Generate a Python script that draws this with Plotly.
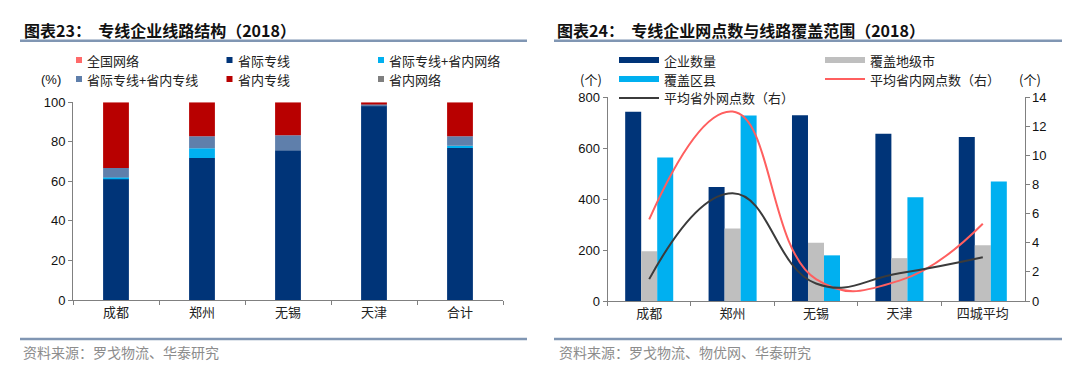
import numpy as np
import plotly.graph_objects as go

# ---------------- Data ----------------
# Left chart: line structure (%), stacked
cities_l = ["成都", "郑州", "无锡", "天津", "合计"]
s_inter_line = [61.3, 71.8, 75.8, 98.4, 76.9]          # 省际专线
s_inter_line_intra_net = [0.7, 4.9, 0.0, 0.0, 1.1]    # 省际专线+省内网络
s_inter_line_intra_line = [4.8, 6.1, 7.5, 0.5, 4.8]   # 省际专线+省内专线
s_intra_line = [33.2, 17.2, 16.7, 1.1, 17.2]          # 省内专线
s_national_net = [0.0, 0.0, 0.0, 0.0, 0.0]            # 全国网络
s_intra_net = [0.0, 0.0, 0.0, 0.0, 0.0]               # 省内网络

# Right chart
cities_r = ["成都", "郑州", "无锡", "天津", "四城平均"]
companies = [742, 447, 728, 656, 643]        # 企业数量
prefectures = [195, 284, 228, 168, 219]      # 覆盖地级市
counties = [563, 727, 179, 407, 469]         # 覆盖区县
avg_intra = [5.6, 13.0, 1.5, 1.4, 5.3]       # 平均省内网点数（右）
avg_inter = [1.5, 7.4, 1.2, 1.9, 3.0]        # 平均省外网点数（右）

# ---------------- Styles ----------------
W, H = 1080, 370
NAVY = "#003478"
LBLUE = "#00b0f0"
STEEL = "#5f7fab"
DRED = "#b80000"
SALMON = "#ff6a6a"
GREY6 = "#7f7f7f"
LGREY = "#bfbfbf"
RED_LINE = "#ff5f5f"
DARK_LINE = "#3b3b3b"
RULE = "#8096b3"
CJK = "Noto Sans CJK SC"
NUM = "Liberation Sans"
AX = "#808080"


def px(x):
    return x / W


def py(y):
    return 1 - y / H


fig = go.Figure()

# ---- Left stacked bars (stacking via cumulative base) ----
left_series = [
    ("省际专线", s_inter_line, NAVY),
    ("省际专线+省内网络", s_inter_line_intra_net, LBLUE),
    ("省际专线+省内专线", s_inter_line_intra_line, STEEL),
    ("省内专线", s_intra_line, DRED),
    ("全国网络", s_national_net, SALMON),
    ("省内网络", s_intra_net, GREY6),
]
base = np.zeros(len(cities_l))
for name, vals, col in left_series:
    v = np.array(vals, dtype=float)
    fig.add_trace(go.Bar(
        x=cities_l, y=v, base=base.copy(), name=name,
        marker=dict(color=col, line=dict(width=0)),
        width=0.30, offset=-0.15, showlegend=False,
        xaxis="x", yaxis="y"))
    base = base + v

# ---- Right grouped bars ----
right_bars = [
    ("企业数量", companies, NAVY, -0.288),
    ("覆盖地级市", prefectures, LGREY, -0.096),
    ("覆盖区县", counties, LBLUE, 0.096),
]
for name, vals, col, off in right_bars:
    fig.add_trace(go.Bar(
        x=cities_r, y=vals, name=name,
        marker=dict(color=col, line=dict(width=0)),
        width=0.192, offset=off, showlegend=False,
        xaxis="x2", yaxis="y2"))

fig.add_trace(go.Scatter(
    x=cities_r, y=avg_intra, name="平均省内网点数（右）", mode="lines",
    line=dict(color=RED_LINE, width=2, shape="spline", smoothing=1.3),
    showlegend=False, xaxis="x2", yaxis="y3"))
fig.add_trace(go.Scatter(
    x=cities_r, y=avg_inter, name="平均省外网点数（右）", mode="lines",
    line=dict(color=DARK_LINE, width=2, shape="spline", smoothing=1.3),
    showlegend=False, xaxis="x2", yaxis="y3"))

axis_common = dict(showline=True, linecolor=AX, linewidth=1, ticks="outside",
                   ticklen=4, tickcolor=AX, showgrid=False, zeroline=False,
                   fixedrange=True, automargin=False)

fig.update_layout(
    width=W, height=H, autosize=False,
    margin=dict(l=0, r=0, t=0, b=0, pad=0),
    paper_bgcolor="white", plot_bgcolor="white",
    barmode="overlay", showlegend=False,
    xaxis=dict(domain=[px(73), px(503)], anchor="y", type="category",
               tickson="boundaries", tickfont=dict(family=CJK, size=13, color="#222"),
               **axis_common),
    yaxis=dict(domain=[py(300), py(102.3)], anchor="x", range=[0, 100], dtick=20,
               tickfont=dict(family=NUM, size=13, color="#111"), **axis_common),
    xaxis2=dict(domain=[px(607.5), px(1024.5)], anchor="y2", type="category",
                tickson="boundaries", tickfont=dict(family=CJK, size=13, color="#222"),
                **axis_common),
    yaxis2=dict(domain=[py(301), py(97)], anchor="x2", range=[0, 800], dtick=200,
                tickfont=dict(family=NUM, size=13, color="#111"), **axis_common),
    yaxis3=dict(overlaying="y2", anchor="x2", side="right", range=[0, 14], dtick=2,
                tickfont=dict(family=NUM, size=13, color="#111"), **axis_common),
)

shapes = []
annotations = []

# Titles and rules
annotations.append(dict(x=px(22), y=py(30), xref="paper", yref="paper",
                        text="<b>图表23：  专线企业线路结构（2018）</b>", showarrow=False,
                        xanchor="left", yanchor="middle",
                        font=dict(family=CJK, size=16, color="#111")))
annotations.append(dict(x=px(555), y=py(30), xref="paper", yref="paper",
                        text="<b>图表24：  专线企业网点数与线路覆盖范围（2018）</b>", showarrow=False,
                        xanchor="left", yanchor="middle",
                        font=dict(family=CJK, size=16, color="#111")))
for x0, x1 in [(20, 527), (554, 1062)]:
    shapes.append(dict(type="line", xref="paper", yref="paper", x0=px(x0), x1=px(x1),
                       y0=py(40.8), y1=py(40.8), line=dict(color=RULE, width=2.5)))
    shapes.append(dict(type="line", xref="paper", yref="paper", x0=px(x0), x1=px(x1),
                       y0=py(339), y1=py(339), line=dict(color=RULE, width=2.5)))

# Sources
annotations.append(dict(x=px(21), y=py(352), xref="paper", yref="paper",
                        text="资料来源：罗戈物流、华泰研究", showarrow=False,
                        xanchor="left", yanchor="middle",
                        font=dict(family=CJK, size=14, color="#8c8c8c")))
annotations.append(dict(x=px(557), y=py(352), xref="paper", yref="paper",
                        text="资料来源：罗戈物流、物优网、华泰研究", showarrow=False,
                        xanchor="left", yanchor="middle",
                        font=dict(family=CJK, size=14, color="#8c8c8c")))

# Unit labels
annotations.append(dict(x=px(63), y=py(79), xref="paper", yref="paper", text="(%)",
                        showarrow=False, xanchor="right", yanchor="middle",
                        font=dict(family=NUM, size=13, color="#111")))
annotations.append(dict(x=px(604), y=py(79), xref="paper", yref="paper", text="(个)",
                        showarrow=False, xanchor="right", yanchor="middle",
                        font=dict(family=CJK, size=13, color="#111")))
annotations.append(dict(x=px(1017), y=py(79), xref="paper", yref="paper", text="(个)",
                        showarrow=False, xanchor="left", yanchor="middle",
                        font=dict(family=CJK, size=13, color="#111")))

# Left legend (manual)
left_legend = [
    ("全国网络", SALMON, 76, 60), ("省际专线", NAVY, 226.5, 60), ("省际专线+省内网络", LBLUE, 378, 60),
    ("省际专线+省内专线", STEEL, 76, 79), ("省内专线", DRED, 226.5, 79), ("省内网络", GREY6, 378, 79),
]
for name, col, x, y in left_legend:
    shapes.append(dict(type="rect", xref="paper", yref="paper", x0=px(x), x1=px(x + 6),
                       y0=py(y + 3), y1=py(y - 3), fillcolor=col, line=dict(width=0)))
    annotations.append(dict(x=px(x + 9), y=py(y), xref="paper", yref="paper", text=name,
                            showarrow=False, xanchor="left", yanchor="middle",
                            font=dict(family=CJK, size=13, color="#222")))

# Right legend (manual)
right_legend = [
    ("企业数量", NAVY, "bar", 619, 60), ("覆盖地级市", LGREY, "bar", 825, 60),
    ("覆盖区县", LBLUE, "bar", 619, 79), ("平均省内网点数（右）", RED_LINE, "line", 825, 79),
    ("平均省外网点数（右）", DARK_LINE, "line", 619, 98),
]
for name, col, kind, x, y in right_legend:
    if kind == "bar":
        shapes.append(dict(type="rect", xref="paper", yref="paper", x0=px(x), x1=px(x + 40),
                           y0=py(y + 3), y1=py(y - 3), fillcolor=col, line=dict(width=0)))
    else:
        shapes.append(dict(type="line", xref="paper", yref="paper", x0=px(x), x1=px(x + 40),
                           y0=py(y), y1=py(y), line=dict(color=col, width=2)))
    annotations.append(dict(x=px(x + 43), y=py(y), xref="paper", yref="paper", text=name,
                            showarrow=False, xanchor="left", yanchor="middle",
                            font=dict(family=CJK, size=13, color="#222")))

fig.update_layout(shapes=shapes, annotations=annotations)

fig.write_html(
    "out.html",
    config={"displayModeBar": False},
    post_script="document.body.style.margin='0';document.body.style.overflow='hidden';",
)
